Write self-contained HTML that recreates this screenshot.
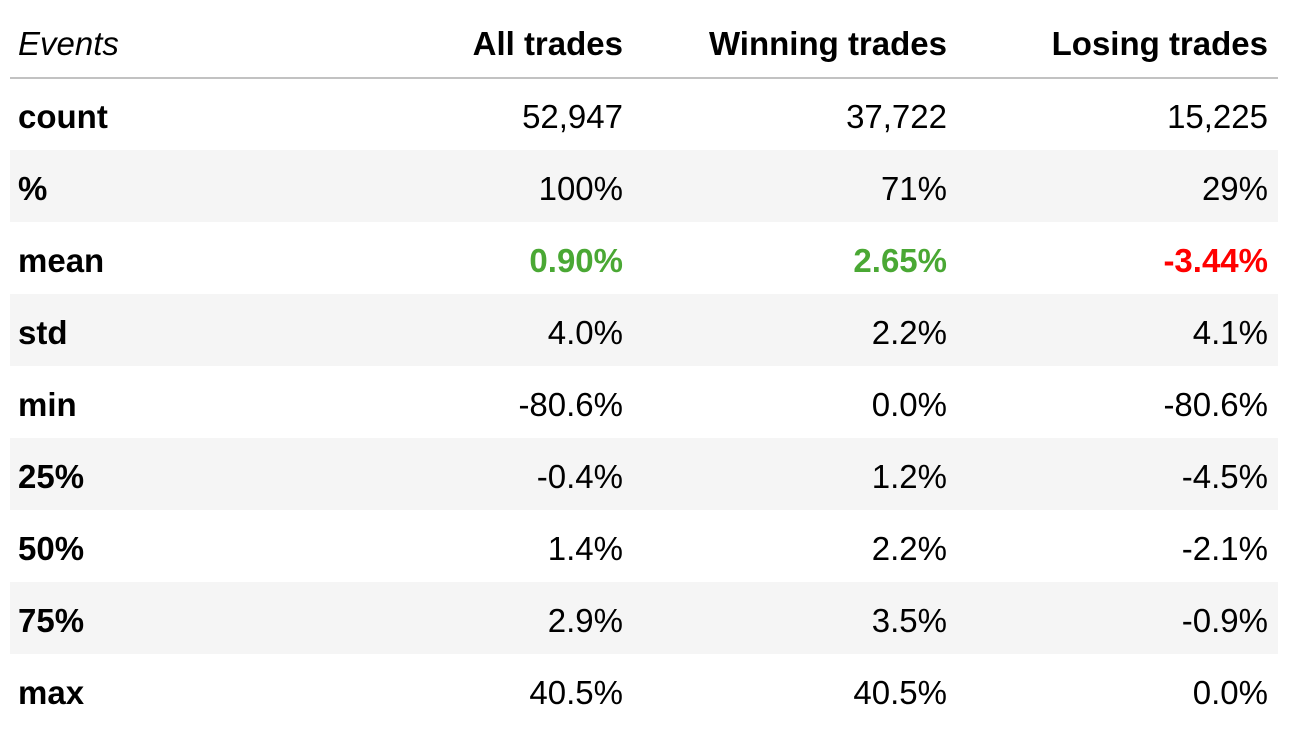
<!DOCTYPE html>
<html>
<head>
<meta charset="utf-8">
<style>
  html, body { margin: 0; padding: 0; background: #fff; }
  #wrap { position: relative; width: 1292px; height: 730px; overflow: hidden; background: #fff;
    font-family: "Liberation Sans", Arial, sans-serif; color: #000; }
  .stripe { position: absolute; left: 10px; width: 1268px; height: 72px; background: #f5f5f5; }
  .hline { position: absolute; left: 10px; width: 1268px; top: 77px; height: 2px; background: #c2c2c2; }
  .row { position: absolute; left: 0; width: 1292px; height: 72px; line-height: 72px; font-size: 33px; }
  .row span { position: absolute; top: 3px; white-space: nowrap; }
  .lab { left: 18px; font-weight: bold; }
  .c1 { right: 669px; }
  .c2 { right: 345px; }
  .c3 { right: 24px; }
  .hdr { position: absolute; left: 0; top: 0; width: 1292px; height: 77px; line-height: 77px; font-size: 33px; }
  .hdr span { position: absolute; top: 5px; white-space: nowrap; font-weight: bold; }
  .hdr .lab { font-weight: normal; font-style: italic; }
  .g { color: #4aa834; font-weight: bold; }
  .r { color: #ff0000; font-weight: bold; }
</style>
</head>
<body>
<div id="wrap">
  <div class="stripe" style="top:150px"></div>
  <div class="stripe" style="top:294px"></div>
  <div class="stripe" style="top:438px"></div>
  <div class="stripe" style="top:582px"></div>
  <div class="hline"></div>

  <div class="hdr">
    <span class="lab">Events</span>
    <span class="c1">All trades</span>
    <span class="c2">Winning trades</span>
    <span class="c3">Losing trades</span>
  </div>

  <div class="row" style="top:78px">
    <span class="lab">count</span><span class="c1">52,947</span><span class="c2">37,722</span><span class="c3">15,225</span>
  </div>
  <div class="row" style="top:150px">
    <span class="lab">%</span><span class="c1">100%</span><span class="c2">71%</span><span class="c3">29%</span>
  </div>
  <div class="row" style="top:222px">
    <span class="lab">mean</span><span class="c1 g">0.90%</span><span class="c2 g">2.65%</span><span class="c3 r">-3.44%</span>
  </div>
  <div class="row" style="top:294px">
    <span class="lab">std</span><span class="c1">4.0%</span><span class="c2">2.2%</span><span class="c3">4.1%</span>
  </div>
  <div class="row" style="top:366px">
    <span class="lab">min</span><span class="c1">-80.6%</span><span class="c2">0.0%</span><span class="c3">-80.6%</span>
  </div>
  <div class="row" style="top:438px">
    <span class="lab">25%</span><span class="c1">-0.4%</span><span class="c2">1.2%</span><span class="c3">-4.5%</span>
  </div>
  <div class="row" style="top:510px">
    <span class="lab">50%</span><span class="c1">1.4%</span><span class="c2">2.2%</span><span class="c3">-2.1%</span>
  </div>
  <div class="row" style="top:582px">
    <span class="lab">75%</span><span class="c1">2.9%</span><span class="c2">3.5%</span><span class="c3">-0.9%</span>
  </div>
  <div class="row" style="top:654px">
    <span class="lab">max</span><span class="c1">40.5%</span><span class="c2">40.5%</span><span class="c3">0.0%</span>
  </div>
</div>
</body>
</html>
